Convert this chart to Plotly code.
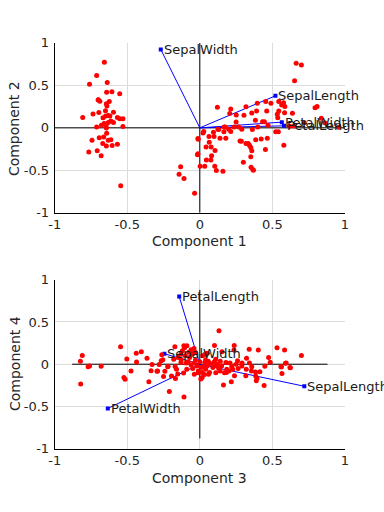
import plotly.graph_objects as go

# ---------------- data ----------------
var_names = ["SepalLength", "SepalWidth", "PetalLength", "PetalWidth"]

# loadings (component 1/2 and 3/4)
coef_c1 = [0.521, -0.269, 0.580, 0.565]
coef_c2 = [0.377, 0.923, 0.024, 0.067]
coef_c3 = [0.720, -0.244, -0.142, -0.634]
coef_c4 = [-0.261, 0.124, 0.801, -0.524]

# scaled scores, component 1 vs 2
sc12_x = [
    -0.658, -0.711, -0.760, -0.638, -0.642, -0.606, -0.552, -0.689, -0.700, -0.644,
    -0.624, -0.640, -0.595, -0.696, -0.736, -0.807, -0.667, -0.649, -0.631, -0.568,
    -0.552, -0.530, -0.613, -0.631, -0.595, -0.678, -0.711, -0.646, -0.530, -0.644,
    -0.743, -0.693, -0.662, -0.642, -0.631, -0.613, -0.669, -0.644, -0.604, -0.568,
    -0.765, -0.707, -0.680, -0.545, -0.650, -0.620, -0.700, -0.660,
    0.664, 0.700, 0.653, 0.121, 0.213, 0.206, 0.251, 0.318, 0.396, 0.454,
    0.490, 0.358, 0.391, 0.304, 0.383, 0.432, 0.445, 0.461, 0.544, 0.534,
    0.564, 0.577, 0.586, 0.544, 0.537, 0.584, 0.638, 0.794, 0.808, 0.837,
    0.861, 0.957, 0.720, 0.649, 0.168, 0.125, 0.199, 0.237, 0.268, 0.289,
    0.362, 0.027, 0.094, 0.166, 0.213, 0.523, 0.541, -0.013, 0.063, 0.098,
    0.139, 0.179, 0.277, 0.318, 0.333, 0.385, 0.423, 0.465, 0.065, 0.043,
    0.078, 0.105, 0.081, 0.045, 0.076, 0.342, 0.351, 0.358, 0.351, 0.300,
    0.452, 0.579, 0.353, 0.365, 0.002, 0.034, 0.103, 0.114, 0.159, -0.013,
    -0.036, -0.132, -0.143, -0.109, -0.016, -0.011, 0.250, 0.174, 0.130, 0.022,
    0.286, 0.370, 0.400, 0.470, 0.620,
]
sc12_y = [
    0.771, 0.615, 0.512, 0.535, 0.420, 0.425, 0.402, 0.314, 0.328, 0.283,
    0.311, 0.257, 0.185, 0.181, 0.162, 0.123, 0.120, 0.139, 0.146, 0.123,
    0.108, 0.108, 0.082, 0.063, 0.063, 0.032, 0.009, 0.025, 0.017, -0.002,
    -0.146, -0.117, -0.109, -0.063, -0.146, -0.139, -0.185, -0.215, -0.208, -0.192,
    -0.283, -0.269, -0.329, -0.682, 0.200, 0.140, 0.330, 0.050,
    0.762, 0.739, 0.556, 0.244, 0.221, 0.168, 0.152, 0.248, 0.290, 0.309,
    0.290, 0.175, 0.198, 0.149, 0.091, 0.072, 0.072, 0.198, 0.198, 0.160,
    0.270, 0.297, 0.251, 0.309, 0.118, 0.179, 0.171, 0.236, 0.251, 0.114,
    0.061, 0.008, 0.061, 0.023, 0.011, -0.015, -0.015, 0.011, 0.011, -0.015,
    -0.019, -0.042, -0.053, -0.046, -0.042, -0.046, -0.046, -0.126, -0.103, -0.103,
    -0.122, -0.122, -0.156, -0.183, -0.183, -0.141, -0.130, -0.122, -0.168, -0.225,
    -0.225, -0.267, -0.328, -0.377, -0.377, -0.206, -0.232, -0.270, -0.339, -0.404,
    -0.255, -0.206, -0.465, -0.491, -0.453, -0.453, -0.453, -0.503, -0.510, -0.305,
    -0.770, -0.459, -0.547, -0.597, -0.318, -0.135, 0.069, 0.011, -0.020, -0.060,
    -0.158, -0.500, 0.010, 0.030, 0.020,
]

# scaled scores, component 3 vs 4
sc34_x = [
    -0.810, -0.823, -0.770, -0.760, -0.680, -0.821, -0.546, -0.503, -0.523, -0.515,
    -0.474, -0.438, -0.403, -0.436, -0.364, -0.351, -0.329, -0.336, -0.291, -0.280,
    -0.266, -0.250, -0.262, -0.221, -0.210, -0.195, -0.161, -0.168, -0.109, -0.089,
    -0.076, -0.128, -0.094, -0.049, -0.038, -0.172, -0.130, -0.105, -0.040, -0.112,
    -0.152, -0.255, -0.219, -0.170, -0.241, -0.295,
    -0.120, -0.100, -0.070, -0.050, -0.030, -0.020, 0.000, -0.080, -0.130, -0.060,
    -0.110, -0.060, -0.030, -0.150, -0.180, -0.090, -0.010, 0.020,
    0.101, 0.237, 0.235, 0.340, 0.403, 0.532, 0.584, 0.700, 0.474, 0.485,
    0.595, 0.562, 0.624, 0.566, 0.448, 0.414, 0.394, 0.443, 0.385, 0.322,
    0.320, 0.264, 0.342, 0.356, 0.291, 0.208, 0.186, 0.163, 0.217, 0.170,
    0.226, 0.141, 0.119, 0.096, 0.058, 0.040, 0.007, -0.011, -0.038, 0.052,
    0.152, 0.132, 0.038, 0.016, 0.031, 0.016, 0.067, 0.183, 0.239, 0.317,
    0.358, 0.384, 0.389, 0.559, 0.590, 0.621,
    0.070, 0.100, 0.120, 0.150, 0.180, 0.220, 0.250, 0.130, 0.090, 0.050,
    0.200, 0.260, 0.290, 0.110, 0.040, 0.020, 0.060, 0.035, 0.010, 0.110,
    0.140,
]
sc34_y = [
    0.103, 0.034, -0.031, -0.020, -0.023, -0.233, 0.207, 0.061, -0.157, -0.178,
    -0.080, 0.130, 0.149, 0.026, 0.072, -0.207, -0.004, -0.077, -0.080, -0.004,
    0.042, -0.146, 0.111, -0.031, -0.322, -0.138, -0.061, -0.169, -0.387, 0.218,
    0.141, 0.054, 0.015, -0.050, -0.119, 0.207, 0.118, 0.195, 0.187, -0.103,
    -0.115, 0.053, -0.023, -0.027, -0.084, -0.084,
    0.160, 0.100, 0.080, 0.120, 0.050, -0.020, 0.030, 0.030, 0.020, -0.010,
    0.220, 0.170, 0.140, 0.080, 0.060, -0.060, -0.080, -0.030,
    0.222, 0.222, 0.169, 0.176, 0.169, 0.195, 0.169, 0.103, 0.080, 0.023,
    0.015, -0.034, -0.042, -0.111, -0.023, -0.088, -0.169, -0.253, -0.138, 0.072,
    -0.061, -0.050, 0.015, -0.080, 0.015, 0.015, -0.061, -0.245, -0.207, -0.100,
    -0.061, 0.034, -0.015, -0.004, 0.034, -0.061, -0.176, -0.100, 0.015, 0.130,
    0.149, 0.397, 0.122, -0.099, -0.122, -0.156, -0.099, -0.099, -0.137, -0.137,
    -0.031, -0.092, -0.195, -0.027, 0.011, -0.038,
    0.010, 0.030, 0.000, -0.020, 0.020, -0.030, 0.000, -0.050, -0.040, -0.020,
    -0.080, 0.040, -0.020, 0.060, 0.050, 0.100, -0.120, 0.020, -0.040, -0.100,
    -0.080,
]

tick_vals = [-1, -0.5, 0, 0.5, 1]
tick_text = ["-1", "-0.5", "0", "0.5", "1"]
axis_titles = ["Component 1", "Component 2", "Component 3", "Component 4"]

# ---------------- figure ----------------
FONT = "DejaVu Sans"
TXT = "#262626"
fig = go.Figure()


def add_panel(xa, ya, cx, cy, sx, sy, ext):
    # axis lines through origin
    fig.add_trace(go.Scatter(x=[-ext, ext, None, 0, 0], y=[0, 0, None, -ext, ext],
                             mode="lines", line=dict(color="black", width=1),
                             xaxis=xa, yaxis=ya, hoverinfo="skip", showlegend=False))
    # vectors
    lx, ly = [], []
    for a, b in zip(cx, cy):
        lx += [0, a, None]
        ly += [0, b, None]
    fig.add_trace(go.Scatter(x=lx, y=ly, mode="lines", line=dict(color="#0000ff", width=1),
                             xaxis=xa, yaxis=ya, hoverinfo="skip", showlegend=False))
    fig.add_trace(go.Scatter(x=cx, y=cy, mode="markers",
                             marker=dict(color="#0000ff", size=4, symbol="square"),
                             xaxis=xa, yaxis=ya, hoverinfo="skip", showlegend=False))
    # observations
    fig.add_trace(go.Scatter(x=sx, y=sy, mode="markers",
                             marker=dict(color="#ff0000", size=5, symbol="circle"),
                             xaxis=xa, yaxis=ya, hoverinfo="skip", showlegend=False))
    for name, a, b in zip(var_names, cx, cy):
        fig.add_annotation(x=a, y=b, xref=xa, yref=ya, text=name, showarrow=False,
                           xanchor="left", yanchor="middle", xshift=1,
                           font=dict(family=FONT, size=13, color="#1a1a1a"))


add_panel("x", "y", coef_c1, coef_c2, sc12_x, sc12_y, 1.0)
add_panel("x2", "y2", coef_c3, coef_c4, sc34_x, sc34_y, 0.88)

ax_common = dict(range=[-1, 1], tickvals=tick_vals, ticktext=tick_text,
                 showgrid=True, gridcolor="#dcdcdc", gridwidth=1, zeroline=False,
                 showline=True, linecolor="black", linewidth=1, mirror=False,
                 ticks="", tickfont=dict(family=FONT, size=13, color=TXT))

xdom = [50 / 384, 348 / 384]
fig.update_layout(
    width=384, height=512,
    margin=dict(l=0, r=0, t=0, b=0),
    paper_bgcolor="white", plot_bgcolor="white",
    showlegend=False,
    xaxis=dict(domain=xdom, anchor="y", **ax_common),
    yaxis=dict(domain=[1 - 212 / 512, 1 - 37 / 512], anchor="x", ticklabelstandoff=2, **ax_common),
    xaxis2=dict(domain=xdom, anchor="y2", **ax_common),
    yaxis2=dict(domain=[1 - 455 / 512, 1 - 281 / 512], anchor="x2", ticklabelstandoff=2, **ax_common),
)

xc = (xdom[0] + xdom[1]) / 2
title_font = dict(family=FONT, size=14, color=TXT)
fig.add_annotation(text=axis_titles[0], xref="paper", yref="paper", x=xc, y=1 - 241 / 512,
                   showarrow=False, xanchor="center", yanchor="middle", font=title_font)
fig.add_annotation(text=axis_titles[1], xref="paper", yref="paper", x=9 / 384, y=1 - 125 / 512,
                   showarrow=False, xanchor="center", yanchor="middle", textangle=-90, font=title_font)
fig.add_annotation(text=axis_titles[2], xref="paper", yref="paper", x=xc, y=1 - 485 / 512,
                   showarrow=False, xanchor="center", yanchor="middle", font=title_font)
fig.add_annotation(text=axis_titles[3], xref="paper", yref="paper", x=9 / 384, y=1 - 367 / 512,
                   showarrow=False, xanchor="center", yanchor="middle", textangle=-90, font=title_font)

fig.write_html("out.html", config={"displayModeBar": False},
               post_script="document.body.style.margin='0';document.body.style.overflow='hidden';")
